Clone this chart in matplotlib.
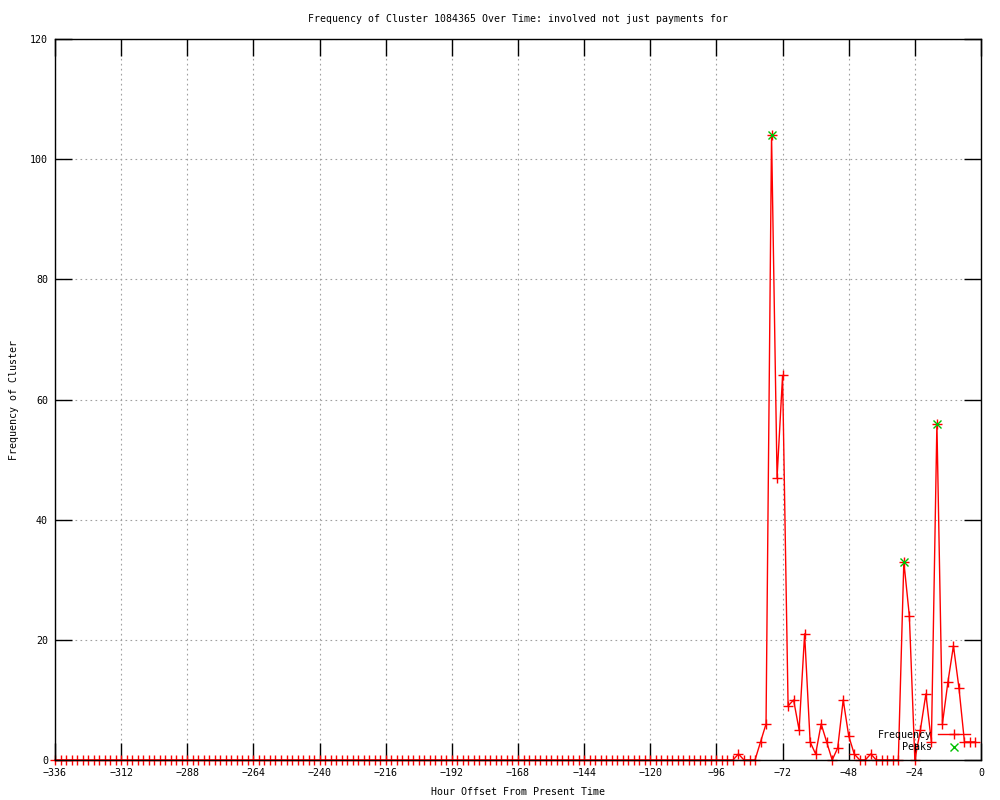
import numpy as np
import matplotlib
matplotlib.use("Agg")
from matplotlib import pyplot as plt

# hours before now, one sample every 2 hours
hours = np.arange(-336, 0, 2)

# frequency per 2-hour bucket, one row per day (12 buckets)
frequency = [
    0, 0, 0, 0, 0, 0, 0, 0, 0, 0, 0, 0,        # -336 .. -314
    0, 0, 0, 0, 0, 0, 0, 0, 0, 0, 0, 0,        # -312 .. -290
    0, 0, 0, 0, 0, 0, 0, 0, 0, 0, 0, 0,        # -288 .. -266
    0, 0, 0, 0, 0, 0, 0, 0, 0, 0, 0, 0,        # -264 .. -242
    0, 0, 0, 0, 0, 0, 0, 0, 0, 0, 0, 0,        # -240 .. -218
    0, 0, 0, 0, 0, 0, 0, 0, 0, 0, 0, 0,        # -216 .. -194
    0, 0, 0, 0, 0, 0, 0, 0, 0, 0, 0, 0,        # -192 .. -170
    0, 0, 0, 0, 0, 0, 0, 0, 0, 0, 0, 0,        # -168 .. -146
    0, 0, 0, 0, 0, 0, 0, 0, 0, 0, 0, 0,        # -144 .. -122
    0, 0, 0, 0, 0, 0, 0, 0, 0, 0, 0, 0,        # -120 .. -98
    0, 0, 0, 0, 1, 0, 0, 0, 3, 6, 104, 47,     # -96 .. -74
    64, 9, 10, 5, 21, 3, 1, 6, 3, 0, 2, 10,    # -72 .. -50
    4, 1, 0, 0, 1, 0, 0, 0, 0, 0, 33, 24,      # -48 .. -26
    0, 5, 11, 3, 56, 6, 13, 19, 12, 3, 3, 3,   # -24 .. -2
]

peak_hours = [-76, -28, -16]
peak_values = [104, 33, 56]

x_ticks = list(range(-336, 1, 24))
y_ticks = list(range(0, 121, 20))

plt.rcParams['font.family'] = ['DejaVu Sans Mono']
plt.rcParams['font.size'] = 7.2

fig = plt.figure(figsize=(10, 8), dpi=100)
ax = fig.add_axes([0.055, 0.05, 0.926, 0.90125])

ax.plot(hours, frequency, color='#ff0000', linewidth=1, marker='+',
        markersize=7, markeredgewidth=1, label='Frequency', clip_on=False,
        zorder=3)
ax.plot(peak_hours, peak_values, linestyle='none', color='#00c000',
        marker='x', markersize=6, markeredgewidth=1, label='Peaks',
        clip_on=False, zorder=4)

ax.set_xlim(-336, 0)
ax.set_ylim(0, 120)
ax.set_xticks(x_ticks)
ax.set_yticks(y_ticks)
ax.grid(True, color='#a0a0a0', linestyle=(0, (1.5, 3)), linewidth=0.8)
ax.set_axisbelow(True)
ax.tick_params(direction='in', length=12, width=1, top=True, right=True,
               labelsize=7.2)
ax.tick_params(axis='x', pad=6)
ax.tick_params(axis='y', pad=5)
# axis border drawn over the markers, like gnuplot does
for s in ax.spines.values():
    s.set_linewidth(1)
    s.set_zorder(5)

ax.set_title('Frequency of Cluster 1084365 Over Time: involved not just payments for',
             fontsize=7.1, pad=12)
ax.set_xlabel('Hour Offset From Present Time', labelpad=6)
ax.set_ylabel('Frequency of Cluster', labelpad=8)

ax.legend(loc='lower right', bbox_to_anchor=(0.993, 0.004), frameon=False,
          markerfirst=False, handlelength=3.2, handletextpad=0.6,
          labelspacing=0.25, borderpad=0, numpoints=1, fontsize=7.2)

fig.savefig('out.png', dpi=100)
